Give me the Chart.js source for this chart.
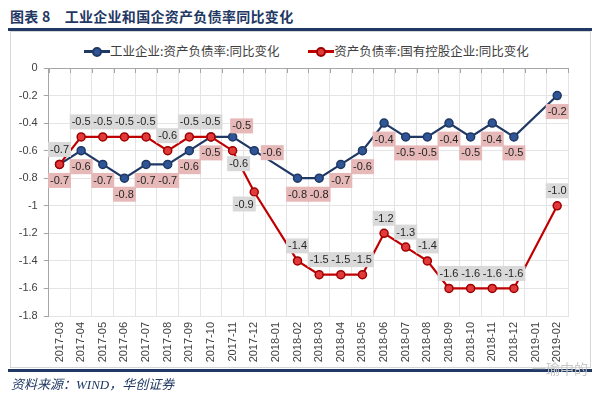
<!DOCTYPE html>
<html>
<head>
<meta charset="utf-8">
<script src="https://cdn.jsdelivr.net/npm/chart.js@4.4.1/dist/chart.umd.min.js"></script>
<style>
body { margin: 0; background: #fff; }
#wrap { position: relative; width: 600px; height: 399px; overflow: hidden; font-family: "Noto Sans CJK SC", sans-serif; }
#title { position: absolute; left: 10px; top: 6px; font-size: 14px; font-weight: bold; color: #1F3864; white-space: nowrap; letter-spacing: 0.3px; }
#title span + span { margin-left: 14px; }
.rule { position: absolute; left: 8px; width: 584px; height: 2.5px; background: #1F3864; }
#frame { position: absolute; left: 10px; top: 31px; width: 581px; height: 337px; border: 1px solid #D6D6D6; box-sizing: border-box; }
#legend { position: absolute; top: 41px; left: 84px; font-size: 12.5px; color: #404040; white-space: nowrap; }
.item { display: inline-block; margin-right: 26px; }
.mk { position: relative; display: inline-block; width: 26px; height: 12px; vertical-align: -1px; }
.mk i { position: absolute; left: 0; top: 5px; width: 26px; height: 2.5px; }
.mk b { position: absolute; left: 8px; top: 1.5px; width: 6px; height: 6px; border-radius: 50%; border: 2px solid; }
#source { position: absolute; left: 11px; top: 374px; font-size: 13px; font-style: italic; color: #1F3864; font-family: "Liberation Serif", "Noto Sans CJK SC", serif; }
#mark { position: absolute; left: 532px; top: 358px; font-size: 14px; color: #C8C8C8; }
canvas { position: absolute; left: 0; top: 0; }
</style>
</head>
<body>
<div id="wrap">
  <div id="title"><span>图表 8</span><span>工业企业和国企资产负债率同比变化</span></div>
  <div class="rule" style="top:28px"></div>
  <div id="frame"></div>
  <div id="legend">
    <span class="item"><span class="mk"><i style="background:#1F3864"></i><b style="background:#2F5597;border-color:#1F3864"></b></span>工业企业:资产负债率:同比变化</span>
    <span class="item"><span class="mk"><i style="background:#C00000"></i><b style="background:#E03A3A;border-color:#A00000"></b></span>资产负债率:国有控股企业:同比变化</span>
  </div>
  <canvas id="c" width="600" height="399"></canvas>
  <div class="rule" style="top:369px"></div>
  <div id="source">资料来源：WIND，华创证券</div>
  <div id="mark">一瑜中的</div>
</div>
<script>
const months = ['2017-03','2017-04','2017-05','2017-06','2017-07','2017-08','2017-09','2017-10','2017-11','2017-12',
  '2018-01','2018-02','2018-03','2018-04','2018-05','2018-06','2018-07','2018-08','2018-09','2018-10','2018-11','2018-12',
  '2019-01','2019-02'];
// 1月无数据
const industrial = [-0.7,-0.6,-0.7,-0.8,-0.7,-0.7,-0.6,-0.5,-0.5,-0.6,null,-0.8,-0.8,-0.7,-0.6,-0.4,-0.5,-0.5,-0.4,-0.5,-0.4,-0.5,null,-0.2];
const stateOwned = [-0.7,-0.5,-0.5,-0.5,-0.5,-0.6,-0.5,-0.5,-0.6,-0.9,null,-1.4,-1.5,-1.5,-1.5,-1.2,-1.3,-1.4,-1.6,-1.6,-1.6,-1.6,null,-1.0];
const yTicks = [-1.8,-1.6,-1.4,-1.2,-1,-0.8,-0.6,-0.4,-0.2,0];

const tickFont = { family: 'Liberation Sans', size: 11 };
const axisGrey = '#A6A6A6';
const gridGrey = '#E4E4E4';

// value boxes (pink for 工业企业, grey for 国有控股)
const boxLabels = {
  id: 'boxLabels',
  afterDatasetsDraw(chart, args, opts) {
    const ctx = chart.ctx;
    ctx.save();
    ctx.font = opts.font;
    ctx.textAlign = 'center';
    ctx.textBaseline = 'middle';
    chart.data.datasets.forEach((ds, di) => {
      const meta = chart.getDatasetMeta(di);
      const place = opts.place[di];
      meta.data.forEach((pt, i) => {
        const v = ds.data[i];
        if (v == null) return;
        const off = place.moved[i] || place.base;
        const txt = v.toFixed(1);
        const w = ctx.measureText(txt).width + 4, h = 15;
        const x = pt.x + off[0], y = pt.y + off[1];
        ctx.fillStyle = place.box;
        ctx.fillRect(x - w / 2, y - h / 2, w, h);
        ctx.fillStyle = opts.color;
        ctx.fillText(txt, x, y + 0.5);
      });
    });
    ctx.restore();
  }
};

// excel style tick marks on the x axis line at y = 0
const topAxis = {
  id: 'topAxis',
  beforeDatasetsDraw(chart) {
    const x = chart.scales.x, y0 = chart.scales.y.getPixelForValue(0);
    const ctx = chart.ctx;
    const step = x.getPixelForValue(1) - x.getPixelForValue(0);
    ctx.save();
    ctx.strokeStyle = axisGrey;
    ctx.lineWidth = 1;
    ctx.beginPath();
    ctx.moveTo(chart.chartArea.left, y0 + 0.5);
    ctx.lineTo(chart.chartArea.right, y0 + 0.5);
    for (let i = 0; i <= months.length; i++) {
      const px = Math.round(x.getPixelForValue(0) - step / 2 + i * step) + 0.5;
      ctx.moveTo(px, y0);
      ctx.lineTo(px, y0 + 5);
    }
    ctx.stroke();
    ctx.restore();
  }
};

new Chart(document.getElementById('c'), {
  type: 'line',
  data: {
    labels: months,
    datasets: [
      {
        label: '工业企业:资产负债率:同比变化',
        data: industrial,
        borderColor: '#1F3864',
        backgroundColor: '#2F5597',
        pointBorderColor: '#1F3864',
        borderWidth: 2.2,
        pointRadius: 4,
        pointBorderWidth: 1.5,
        spanGaps: true,
        order: 1
      },
      {
        label: '资产负债率:国有控股企业:同比变化',
        data: stateOwned,
        borderColor: '#C00000',
        backgroundColor: '#E03A3A',
        pointBorderColor: '#A00000',
        borderWidth: 2.2,
        pointRadius: 4,
        pointBorderWidth: 1.5,
        spanGaps: true,
        order: 0
      }
    ]
  },
  options: {
    responsive: false,
    animation: false,
    layout: { padding: { left: 10, top: 68, right: 32, bottom: 0 } },
    plugins: {
      legend: { display: false },
      tooltip: { enabled: false },
      boxLabels: {
        font: '11px "Liberation Sans"',
        color: '#262626',
        place: [
          { box: '#E6B9B8', base: [0, 16], moved: { 8: [9, -11], 9: [18, 2] } },
          { box: '#D9D9D9', base: [0, -15], moved: { 8: [6, 13], 9: [-10, 12] } }
        ]
      }
    },
    scales: {
      x: {
        offset: true,
        afterFit: s => { s.height = 83; },
        grid: { offset: true, color: gridGrey, drawTicks: false },
        border: { color: gridGrey },
        ticks: { font: tickFont, color: '#404040', minRotation: 90, maxRotation: 90, padding: 6, autoSkip: false }
      },
      y: {
        min: -1.8,
        max: 0,
        afterFit: s => { s.width = 38.7; },
        afterBuildTicks: s => { s.ticks = yTicks.map(v => ({ value: v })); },
        grid: { color: gridGrey, tickColor: axisGrey, tickLength: 5 },
        border: { color: axisGrey },
        ticks: { font: tickFont, color: '#404040', padding: 6, callback: v => String(Math.round(v * 10) / 10) }
      }
    }
  },
  plugins: [topAxis, boxLabels]
});
</script>
</body>
</html>
